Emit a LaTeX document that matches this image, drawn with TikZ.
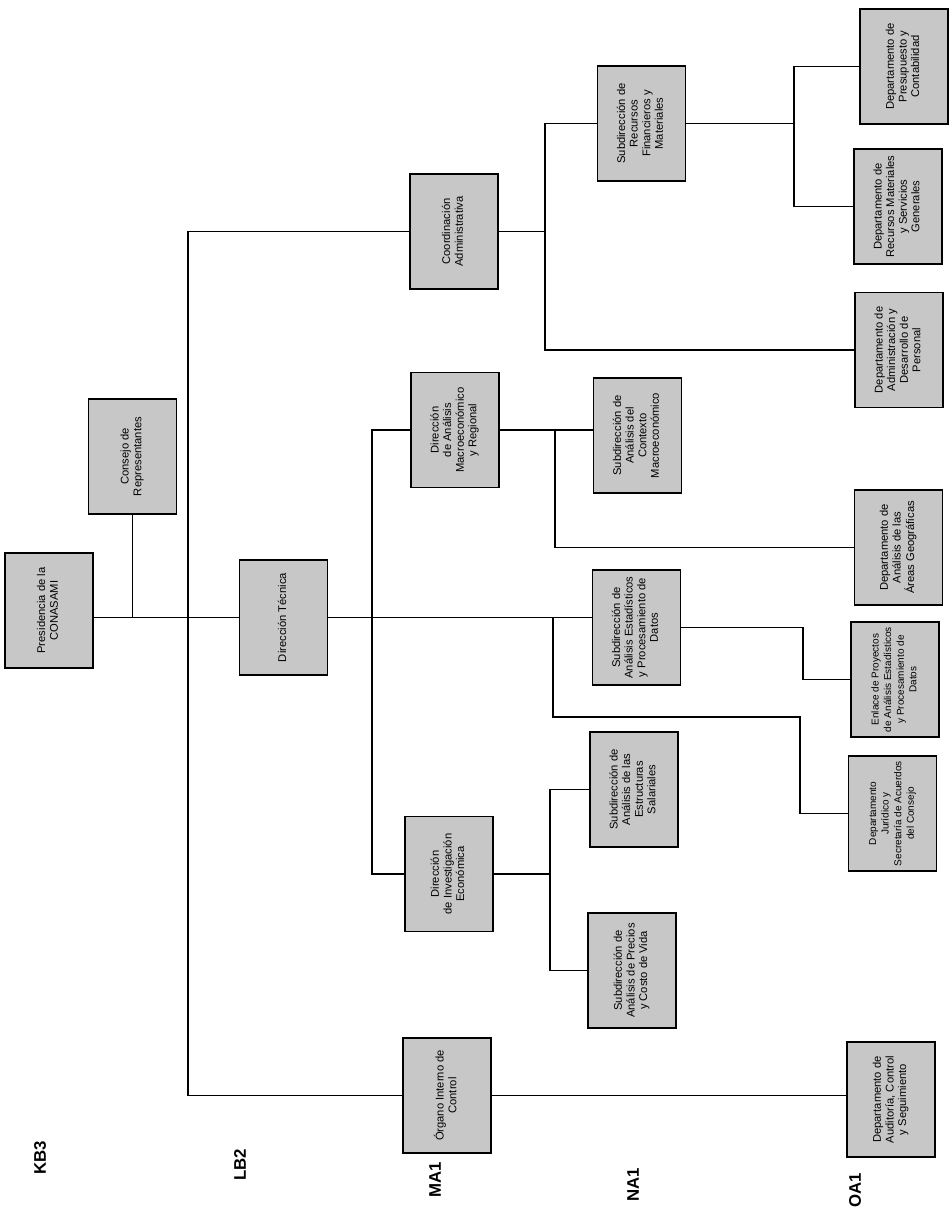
\documentclass[tikz,border=0pt]{standalone}
\usepackage{fontspec}
\setmainfont{Liberation Sans}
\usepackage{graphicx}
\newcommand{\boxtext}[1]{\rotatebox{90}{\fontsize{5.6}{6.3}\selectfont\begin{tabular}{@{}c@{}}#1\end{tabular}}}
\newcommand{\boxtextsm}[1]{\rotatebox{90}{\fontsize{5.0}{6.3}\selectfont\begin{tabular}{@{}c@{}}#1\end{tabular}}}
\begin{document}
\begin{tikzpicture}[x=0.5pt,y=-0.5pt,
  orgbox/.style={draw=black,line width=0.9pt,fill=black!22,minimum width=44pt,minimum height=57.5pt,inner sep=1pt},
  conn/.style={line width=0.75pt},
  lvl/.style={font=\fontsize{8.4}{9}\selectfont\bfseries,rotate=90}]
\useasboundingbox (0,0) rectangle (949,1212);
% boxes
\node[orgbox] (pres) at (49,610.5) {\boxtext{Presidencia de la\\CONASAMI}};
\node[orgbox] (consejo) at (132.5,456.5) {\boxtext{Consejo de\\Representantes}};
\node[orgbox] (dt) at (283.5,617.5) {\boxtext{Dirección Técnica}};
\node[orgbox] (coord) at (454,231.5) {\boxtext{Coordinación\\Administrativa}};
\node[orgbox] (dam) at (455,430) {\boxtext{Dirección\\de Análisis\\Macroeconómico\\y Regional}};
\node[orgbox] (die) at (449,874) {\boxtext{Dirección\\de Investigación\\Económica}};
\node[orgbox] (oic) at (447,1095.5) {\boxtext{Órgano Interno de\\Control}};
\node[orgbox] (srfm) at (641.5,123.5) {\boxtext{Subdirección de\\Recursos\\Financieros y\\Materiales}};
\node[orgbox] (sacm) at (637.5,435.5) {\boxtext{Subdirección de\\Análisis del\\Contexto\\Macroeconómico}};
\node[orgbox] (saepd) at (636.5,627.5) {\boxtext{Subdirección de\\Análisis Estadísticos\\y Procesamiento de\\Datos}};
\node[orgbox] (saes) at (634,789.5) {\boxtext{Subdirección de\\Análisis de las\\Estructuras\\Salariales}};
\node[orgbox] (sapcv) at (632,970.5) {\boxtext{Subdirección de\\Análisis de Precios\\y Costo de Vida}};
\node[orgbox] (dpc) at (904,66.5) {\boxtext{Departamento de\\Presupuesto y\\Contabilidad}};
\node[orgbox] (drmsg) at (898,206.5) {\boxtext{Departamento de\\Recursos Materiales\\y Servicios\\Generales}};
\node[orgbox] (dadp) at (899,350) {\boxtext{Departamento de\\Administración y\\Desarrollo de\\Personal}};
\node[orgbox] (daag) at (898.5,547.5) {\boxtext{Departamento de\\Análisis de las\\Áreas Geográficas}};
\node[orgbox] (epae) at (895,679.5) {\boxtextsm{Enlace de Proyectos\\de Análisis Estadísticos\\y Procesamiento de\\Datos}};
\node[orgbox] (djsa) at (892.5,813.5) {\boxtextsm{Departamento\\Jurídico y\\Secretaría de Acuerdos\\del Consejo}};
\node[orgbox] (dacs) at (891,1099.5) {\boxtext{Departamento de\\Auditoría, Control\\y Seguimiento}};
% level labels
\node[lvl] (kb3) at (40,1158) {KB3};
\node[lvl] (lb2) at (240,1165) {LB2};
\node[lvl] (ma1) at (435,1180) {MA1};
\node[lvl] (na1) at (633,1185) {NA1};
\node[lvl] (oa1) at (855,1190) {OA1};
% junction coordinates
\coordinate (trunk) at (188,617);
\coordinate (v1) at (372,617);
\coordinate (v2) at (555,430);
\coordinate (v3) at (553,717);
\coordinate (j1) at (800,717);
\coordinate (j2) at (803,640);
\coordinate (v4) at (545,236);
\coordinate (v5) at (794,122);
\coordinate (v6) at (550,869);
% connectors
\draw[conn] (pres.east |- dt.west) -- (dt.west);
\draw[conn] (consejo.south) -- (consejo.south |- dt.west);
\draw[conn] (coord.west) -- (coord.west -| trunk) -- (trunk |- oic.west) -- (oic.west);
\draw[conn] (dt.east) -- (dt.east -| saepd.west);
\draw[conn] (dam.west) -- (dam.west -| v1) -- (v1 |- die.west) -- (die.west);
\draw[conn] (dam.east) -- (dam.east -| sacm.west);
\draw[conn] (v2 |- dam.east) -- (v2 |- daag.west) -- (daag.west);
\draw[conn] (v3 |- dt.east) -- (v3) -- (j1) -- (j1 |- djsa.west) -- (djsa.west);
\draw[conn] (saepd.east) -- (j2 |- saepd.east) -- (j2 |- epae.west) -- (epae.west);
\draw[conn] (coord.east) -- (coord.east -| v4);
\draw[conn] (srfm.west) -- (srfm.west -| v4) -- (v4 |- dadp.west) -- (dadp.west);
\draw[conn] (srfm.east) -- (srfm.east -| v5);
\draw[conn] (dpc.west) -- (dpc.west -| v5) -- (v5 |- drmsg.west) -- (drmsg.west);
\draw[conn] (die.east) -- (die.east -| v6);
\draw[conn] (saes.west) -- (saes.west -| v6) -- (v6 |- sapcv.west) -- (sapcv.west);
\draw[conn] (oic.east) -- (oic.east -| dacs.west);
\end{tikzpicture}
\end{document}
